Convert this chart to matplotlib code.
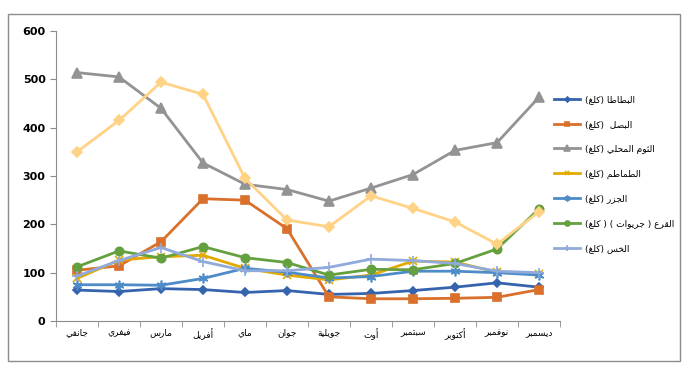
import matplotlib
matplotlib.use("Agg")
import matplotlib.pyplot as plt
from matplotlib.patches import Rectangle
import numpy as np

months = ["جانفي", "فيفري", "مارس", "أفريل", "ماي", "جوان",
          "جويلية", "أوت", "سبتمبر", "أكتوبر", "نوفمبر", "ديسمبر"]

potato = [64, 61, 67, 65, 59, 63, 55, 57, 63, 70, 79, 70]
onion = [105, 114, 164, 253, 250, 191, 50, 46, 46, 47, 49, 65]
garlic = [514, 505, 440, 327, 283, 272, 248, 275, 303, 353, 369, 463]
tomato = [88, 126, 133, 136, 109, 95, 85, 95, 124, 122, 101, 98]
carrot = [75, 75, 74, 88, 109, 101, 89, 92, 103, 103, 100, 95]
squash = [112, 145, 130, 154, 131, 121, 95, 107, 106, 119, 149, 232]
lettuce = [93, 125, 152, 123, 104, 104, 111, 128, 125, 119, 103, 100]
unnamed = [350, 415, 494, 469, 295, 209, 195, 259, 233, 205, 159, 226]

labels = ["البطاطا (كلغ)", "البصل  (كلغ)", "الثوم المحلي (كلغ)", "الطماطم (كلغ)",
          "الجزر (كلغ)", "القرع ( جريوات ) ( كلغ)", "الخس (كلغ)"]

# contextual forms: isolated, final, initial, medial (None = right-joining only)
FORMS = {
    "\u0627": ("\uFE8D", "\uFE8E", None, None),
    "\u0623": ("\uFE83", "\uFE84", None, None),
    "\u0628": ("\uFE8F", "\uFE90", "\uFE91", "\uFE92"),
    "\u0629": ("\uFE93", "\uFE94", None, None),
    "\u062A": ("\uFE95", "\uFE96", "\uFE97", "\uFE98"),
    "\u062B": ("\uFE99", "\uFE9A", "\uFE9B", "\uFE9C"),
    "\u062C": ("\uFE9D", "\uFE9E", "\uFE9F", "\uFEA0"),
    "\u062D": ("\uFEA1", "\uFEA2", "\uFEA3", "\uFEA4"),
    "\u062E": ("\uFEA5", "\uFEA6", "\uFEA7", "\uFEA8"),
    "\u062F": ("\uFEA9", "\uFEAA", None, None),
    "\u0631": ("\uFEAD", "\uFEAE", None, None),
    "\u0632": ("\uFEAF", "\uFEB0", None, None),
    "\u0633": ("\uFEB1", "\uFEB2", "\uFEB3", "\uFEB4"),
    "\u0635": ("\uFEB9", "\uFEBA", "\uFEBB", "\uFEBC"),
    "\u0637": ("\uFEC1", "\uFEC2", "\uFEC3", "\uFEC4"),
    "\u0639": ("\uFEC9", "\uFECA", "\uFECB", "\uFECC"),
    "\u063A": ("\uFECD", "\uFECE", "\uFECF", "\uFED0"),
    "\u0641": ("\uFED1", "\uFED2", "\uFED3", "\uFED4"),
    "\u0642": ("\uFED5", "\uFED6", "\uFED7", "\uFED8"),
    "\u0643": ("\uFED9", "\uFEDA", "\uFEDB", "\uFEDC"),
    "\u0644": ("\uFEDD", "\uFEDE", "\uFEDF", "\uFEE0"),
    "\u0645": ("\uFEE1", "\uFEE2", "\uFEE3", "\uFEE4"),
    "\u0646": ("\uFEE5", "\uFEE6", "\uFEE7", "\uFEE8"),
    "\u0647": ("\uFEE9", "\uFEEA", "\uFEEB", "\uFEEC"),
    "\u0648": ("\uFEED", "\uFEEE", None, None),
    "\u064A": ("\uFEF1", "\uFEF2", "\uFEF3", "\uFEF4"),
}
MIRROR = {"(": ")", ")": "("}


def ar(text):
    """Poor man's Arabic shaping + RTL reversal (matplotlib has no bidi)."""
    out = []
    n = len(text)
    for i, c in enumerate(text):
        if c not in FORMS:
            out.append(MIRROR.get(c, c))
            continue
        iso, fin, ini, med = FORMS[c]
        prev = text[i - 1] if i > 0 else ""
        nxt = text[i + 1] if i < n - 1 else ""
        jp = prev in FORMS and FORMS[prev][2] is not None
        jn = ini is not None and nxt in FORMS
        if jp and jn:
            out.append(med)
        elif jp:
            out.append(fin)
        elif jn:
            out.append(ini)
        else:
            out.append(iso)
    return "".join(reversed(out))


plt.rcParams["font.family"] = ["DejaVu Sans"]

W, H = 692, 377
fig = plt.figure(figsize=(W / 100, H / 100), dpi=100)
fig.patches.append(Rectangle((8 / W, 1 - 361 / H), 672 / W, 347 / H,
                             transform=fig.transFigure, fill=False,
                             edgecolor="#8c8c8c", linewidth=1.0))

ax = fig.add_axes([56 / W, 1 - 321 / H, 504 / W, 290 / H])
x = np.arange(len(months))

series = [
    (potato, "#3563AE", "D", 4.2, labels[0]),
    (onion, "#D9702B", "s", 5.5, labels[1]),
    (garlic, "#939393", "^", 6.5, labels[2]),
    (tomato, "#E2AA00", "x", 6, labels[3]),
    (carrot, "#4D8CC8", (6, 2, 0), 7, labels[4]),
    (squash, "#65A03F", "o", 6, labels[5]),
    (lettuce, "#8FAADB", "+", 7, labels[6]),
    (unnamed, "#FFD285", "D", 5.5, None),
]

handles = []
for vals, col, mk, ms, lab in series:
    line, = ax.plot(x, vals, color=col, lw=2, marker=mk, markersize=ms,
                    markerfacecolor=col, markeredgecolor=col, markeredgewidth=1.2)
    if lab is not None:
        line.set_label(ar(lab))
        handles.append(line)

ax.set_xlim(-0.5, len(months) - 0.5)
ax.set_ylim(0, 600)
ax.set_yticks(np.arange(0, 601, 100))
ax.tick_params(axis="y", direction="out", length=4, color="#8c8c8c",
               labelsize=8)
for t in ax.get_yticklabels():
    t.set_fontweight("bold")
ax.set_xticks(x)
ax.set_xticklabels([ar(m) for m in months], fontsize=6.5)
ax.tick_params(axis="x", length=0, pad=5)
ax.set_xticks(np.arange(-0.5, len(months), 1), minor=True)
ax.tick_params(axis="x", which="minor", direction="out", length=4, color="#8c8c8c")

for s in ["top", "right"]:
    ax.spines[s].set_visible(False)
for s in ["left", "bottom"]:
    ax.spines[s].set_color("#8c8c8c")

fig.legend(handles=handles, loc="upper left",
           bbox_to_anchor=(554 / W, 1 - 95 / H), frameon=False,
           fontsize=6.5, handlelength=2.9, handletextpad=0.5,
           labelspacing=1.75, borderpad=0, borderaxespad=0, markerscale=0.6)

fig.savefig("out.png", dpi=100)
